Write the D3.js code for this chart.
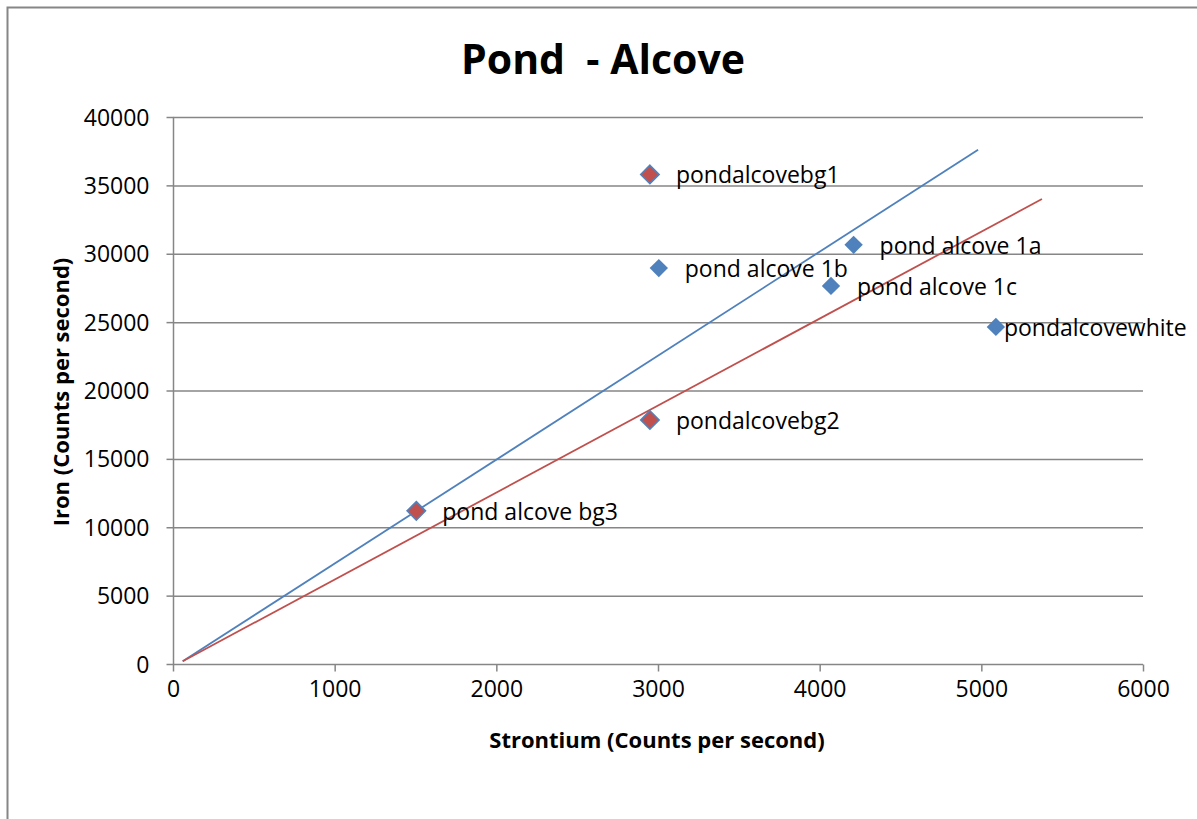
<!DOCTYPE html>
<html>
<head>
<meta charset="utf-8">
<script src="https://cdn.jsdelivr.net/npm/d3@7"></script>
<style>
  html, body { margin: 0; padding: 0; background: #ffffff; }
  svg { display: block; }
  text { font-family: "Open Sans", "Liberation Sans", sans-serif; fill: #000; }
</style>
</head>
<body>
<svg id="chart" width="1197" height="819"></svg>
<script>
// Sample names and measured counts (Sr on x, Fe on y)
const sampleNames = ["pondalcovebg1", "pond alcove 1b", "pond alcove 1a", "pond alcove 1c",
                     "pondalcovewhite", "pondalcovebg2", "pond alcove bg3"];
const strontium   = [2950, 3005, 4210, 4070, 5090, 2950, 1505];
const iron        = [35800, 28950, 30650, 27650, 24650, 17850, 11200];
const sampleGroup = ["bg", "site", "site", "site", "site", "bg", "bg"];

// Reference lines (two endpoints each)
const blueLineX = [60, 4980];
const blueLineY = [200, 37600];
const redLineX  = [60, 5375];
const redLineY  = [200, 34000];

const xTicks = [0, 1000, 2000, 3000, 4000, 5000, 6000];
const yTicks = [0, 5000, 10000, 15000, 20000, 25000, 30000, 35000, 40000];

const BLUE = "#4f81bd", RED = "#c0504d", GRID = "#868686";

const svg = d3.select("#chart");

// outer chart frame
svg.append("rect")
  .attr("x", 7.5).attr("y", 7.5)
  .attr("width", 1250).attr("height", 900)
  .attr("fill", "#fff").attr("stroke", GRID).attr("stroke-width", 2);

const plotL = 173, plotR = 1143, plotT = 117, plotB = 664;
const x = d3.scaleLinear().domain([0, 6000]).range([plotL, plotR]);
const y = d3.scaleLinear().domain([0, 40000]).range([plotB, plotT]);

// horizontal gridlines
svg.append("g").selectAll("line").data(yTicks.filter(d => d > 0)).join("line")
  .attr("x1", plotL).attr("x2", plotR)
  .attr("y1", d => y(d) + 0.5).attr("y2", d => y(d) + 0.5)
  .attr("stroke", GRID).attr("stroke-width", 1.5);

// y axis
const yAxis = svg.append("g")
  .attr("transform", `translate(${plotL + 0.5},0)`)
  .call(d3.axisLeft(y).tickValues(yTicks).tickSize(7).tickPadding(17).tickFormat(d3.format("d")));
yAxis.select(".domain").attr("stroke", GRID).attr("stroke-width", 1.5)
  .attr("d", `M0,${plotT}V${plotB}`);
yAxis.selectAll(".tick line").attr("stroke", GRID).attr("stroke-width", 1.5);
yAxis.selectAll(".tick text").style("font-size", "23px").attr("dy", "0.35em")
  .style("font-family", '"Open Sans", sans-serif');

// x axis
const xAxis = svg.append("g")
  .attr("transform", `translate(0,${plotB + 0.5})`)
  .call(d3.axisBottom(x).tickValues(xTicks).tickSize(7).tickPadding(9).tickFormat(d3.format("d")));
xAxis.select(".domain").attr("stroke", GRID).attr("stroke-width", 1.5)
  .attr("d", `M${plotL},0H${plotR}`);
xAxis.selectAll(".tick line").attr("stroke", GRID).attr("stroke-width", 1.5);
xAxis.selectAll(".tick text").style("font-size", "23px")
  .style("font-family", '"Open Sans", sans-serif');

// reference lines
const line = d3.line().x(d => x(d[0])).y(d => y(d[1]));
svg.append("path").datum(d3.zip(blueLineX, blueLineY))
  .attr("d", line).attr("fill", "none").attr("stroke", BLUE).attr("stroke-width", 1.8);
svg.append("path").datum(d3.zip(redLineX, redLineY))
  .attr("d", line).attr("fill", "none").attr("stroke", RED).attr("stroke-width", 1.8);

// samples
const samples = sampleNames.map((n, i) => ({ name: n, sr: strontium[i], fe: iron[i], group: sampleGroup[i] }));
const diamond = d3.symbol().type(d3.symbolDiamond2).size(215);

svg.append("g").selectAll("path").data(samples).join("path")
  .attr("transform", d => `translate(${x(d.sr)},${y(d.fe)})`)
  .attr("d", diamond)
  .attr("fill", d => d.group === "bg" ? RED : BLUE)
  .attr("stroke", BLUE).attr("stroke-width", d => d.group === "bg" ? 1.6 : 0);

svg.append("g").selectAll("text").data(samples).join("text")
  .attr("x", d => x(d.sr) + (d.name === "pondalcovewhite" ? 8 : 26))
  .attr("y", d => y(d.fe) + 1)
  .attr("dy", "0.35em")
  .style("font-size", "23px")
  .text(d => d.name);

// titles
svg.append("text")
  .attr("x", 603).attr("y", 60).attr("text-anchor", "middle").attr("dy", "0.35em")
  .attr("xml:space", "preserve")
  .style("font-size", "41px").style("font-weight", "bold")
  .text("Pond  - Alcove");

svg.append("text")
  .attr("x", 657).attr("y", 740).attr("text-anchor", "middle").attr("dy", "0.35em")
  .style("font-size", "22px").style("font-weight", "bold")
  .text("Strontium (Counts per second)");

svg.append("text")
  .attr("transform", "translate(61,392) rotate(-90)")
  .attr("text-anchor", "middle").attr("dy", "0.35em")
  .style("font-size", "22px").style("font-weight", "bold")
  .text("Iron (Counts per second)");
</script>
</body>
</html>
